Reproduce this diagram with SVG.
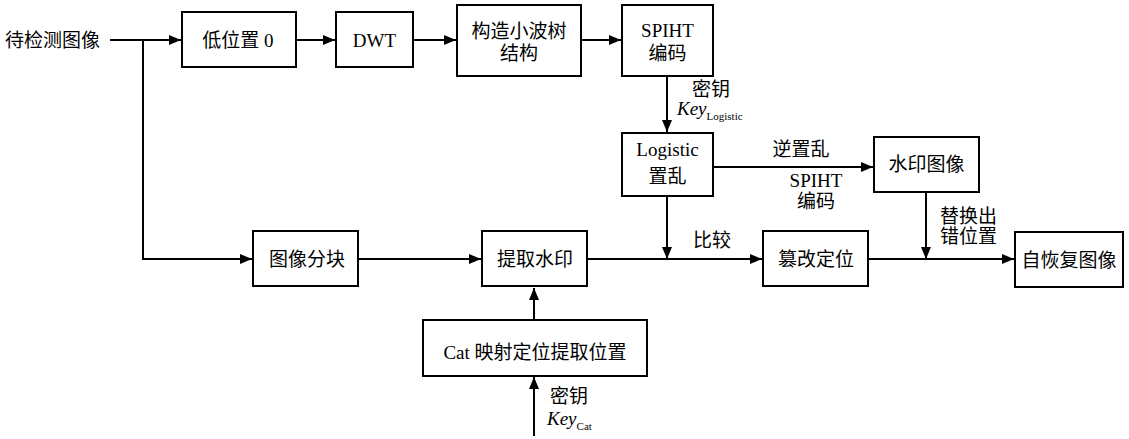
<svg xmlns="http://www.w3.org/2000/svg" width="1129" height="439" viewBox="0 0 1129 439">
<defs>
<marker id="arr" markerUnits="userSpaceOnUse" markerWidth="13" markerHeight="11" refX="12" refY="5" orient="auto">
<path d="M0,0 L12,5 L0,10 z" fill="#000"/>
</marker>
<style>
.box{fill:#fff;stroke:#000;stroke-width:2}
.t{font-family:"Liberation Serif","Noto Sans CJK SC",serif;font-size:19px;fill:#000;text-anchor:middle}
.tl{font-family:"Liberation Serif","Noto Sans CJK SC",serif;font-size:19px;fill:#000}
.c{fill:none;stroke:#000;stroke-width:2}
.k{font-family:"Liberation Serif",serif;font-style:italic;font-size:19px}
.s{font-family:"Liberation Serif",serif;font-size:11px}
</style>
</defs>
<rect width="1129" height="439" fill="#fff"/>
<g id="connectors">
<path class="c" d="M110,40 H181" marker-end="url(#arr)"/>
<path class="c" d="M143,40 V259 H252" marker-end="url(#arr)"/>
<path class="c" d="M296,40 H335" marker-end="url(#arr)"/>
<path class="c" d="M413,40 H456" marker-end="url(#arr)"/>
<path class="c" d="M581,40 H621" marker-end="url(#arr)"/>
<path class="c" d="M667,76 V132" marker-end="url(#arr)"/>
<path class="c" d="M713,167 H873" marker-end="url(#arr)"/>
<path class="c" d="M667,196 V259" marker-end="url(#arr)"/>
<path class="c" d="M358,259 H481" marker-end="url(#arr)"/>
<path class="c" d="M587,259 H762" marker-end="url(#arr)"/>
<path class="c" d="M868,259 H1014" marker-end="url(#arr)"/>
<path class="c" d="M926,192 V259" marker-end="url(#arr)"/>
<path class="c" d="M534,320 V288" marker-end="url(#arr)"/>
<path class="c" d="M534,436 V377" marker-end="url(#arr)"/>
<text class="tl" x="692" y="96">密钥</text>
<text x="677" y="115"><tspan class="k">Key</tspan><tspan class="s" dy="5">Logistic</tspan></text>
<text class="t" x="801" y="156">逆置乱</text>
<text class="t" x="816" y="187">SPIHT</text>
<text class="t" x="816" y="208">编码</text>
<text class="tl" x="693" y="247">比较</text>
<text class="tl" x="940" y="223">替换出</text>
<text class="tl" x="940" y="243">错位置</text>
<text class="tl" x="550" y="403">密钥</text>
<text x="547" y="425"><tspan class="k">Key</tspan><tspan class="s" dy="5">Cat</tspan></text>
</g>
<g id="input"><text class="tl" x="5" y="47">待检测图像</text></g>
<g id="n_low"><rect class="box" x="182" y="12" width="114" height="55"/><text class="t" x="238" y="47">低位置 0</text></g>
<g id="n_dwt"><rect class="box" x="336" y="12" width="77" height="55"/><text class="t" x="374.5" y="47">DWT</text></g>
<g id="n_tree"><rect class="box" x="457" y="5" width="124" height="71"/><text class="t" x="519" y="38">构造小波树</text><text class="t" x="519" y="60">结构</text></g>
<g id="n_spiht"><rect class="box" x="622" y="5" width="91" height="71"/><text class="t" x="667.5" y="37">SPIHT</text><text class="t" x="667.5" y="60">编码</text></g>
<g id="n_logistic"><rect class="box" x="622" y="133" width="91" height="63"/><text class="t" x="667.5" y="156">Logistic</text><text class="t" x="667.5" y="183">置乱</text></g>
<g id="n_wm"><rect class="box" x="874" y="137" width="105" height="55"/><text class="t" x="926.5" y="171">水印图像</text></g>
<g id="n_block"><rect class="box" x="253" y="231" width="105" height="55"/><text class="t" x="307" y="266">图像分块</text></g>
<g id="n_extract"><rect class="box" x="482" y="231" width="105" height="55"/><text class="t" x="535" y="266">提取水印</text></g>
<g id="n_tamper"><rect class="box" x="763" y="231" width="105" height="55"/><text class="t" x="816" y="266">篡改定位</text></g>
<g id="n_recover"><rect class="box" x="1015" y="232" width="108" height="55"/><text class="t" x="1069" y="267">自恢复图像</text></g>
<g id="n_cat"><rect class="box" x="423" y="320" width="224" height="56"/><text class="t" x="535" y="359">Cat 映射定位提取位置</text></g>
</svg>
